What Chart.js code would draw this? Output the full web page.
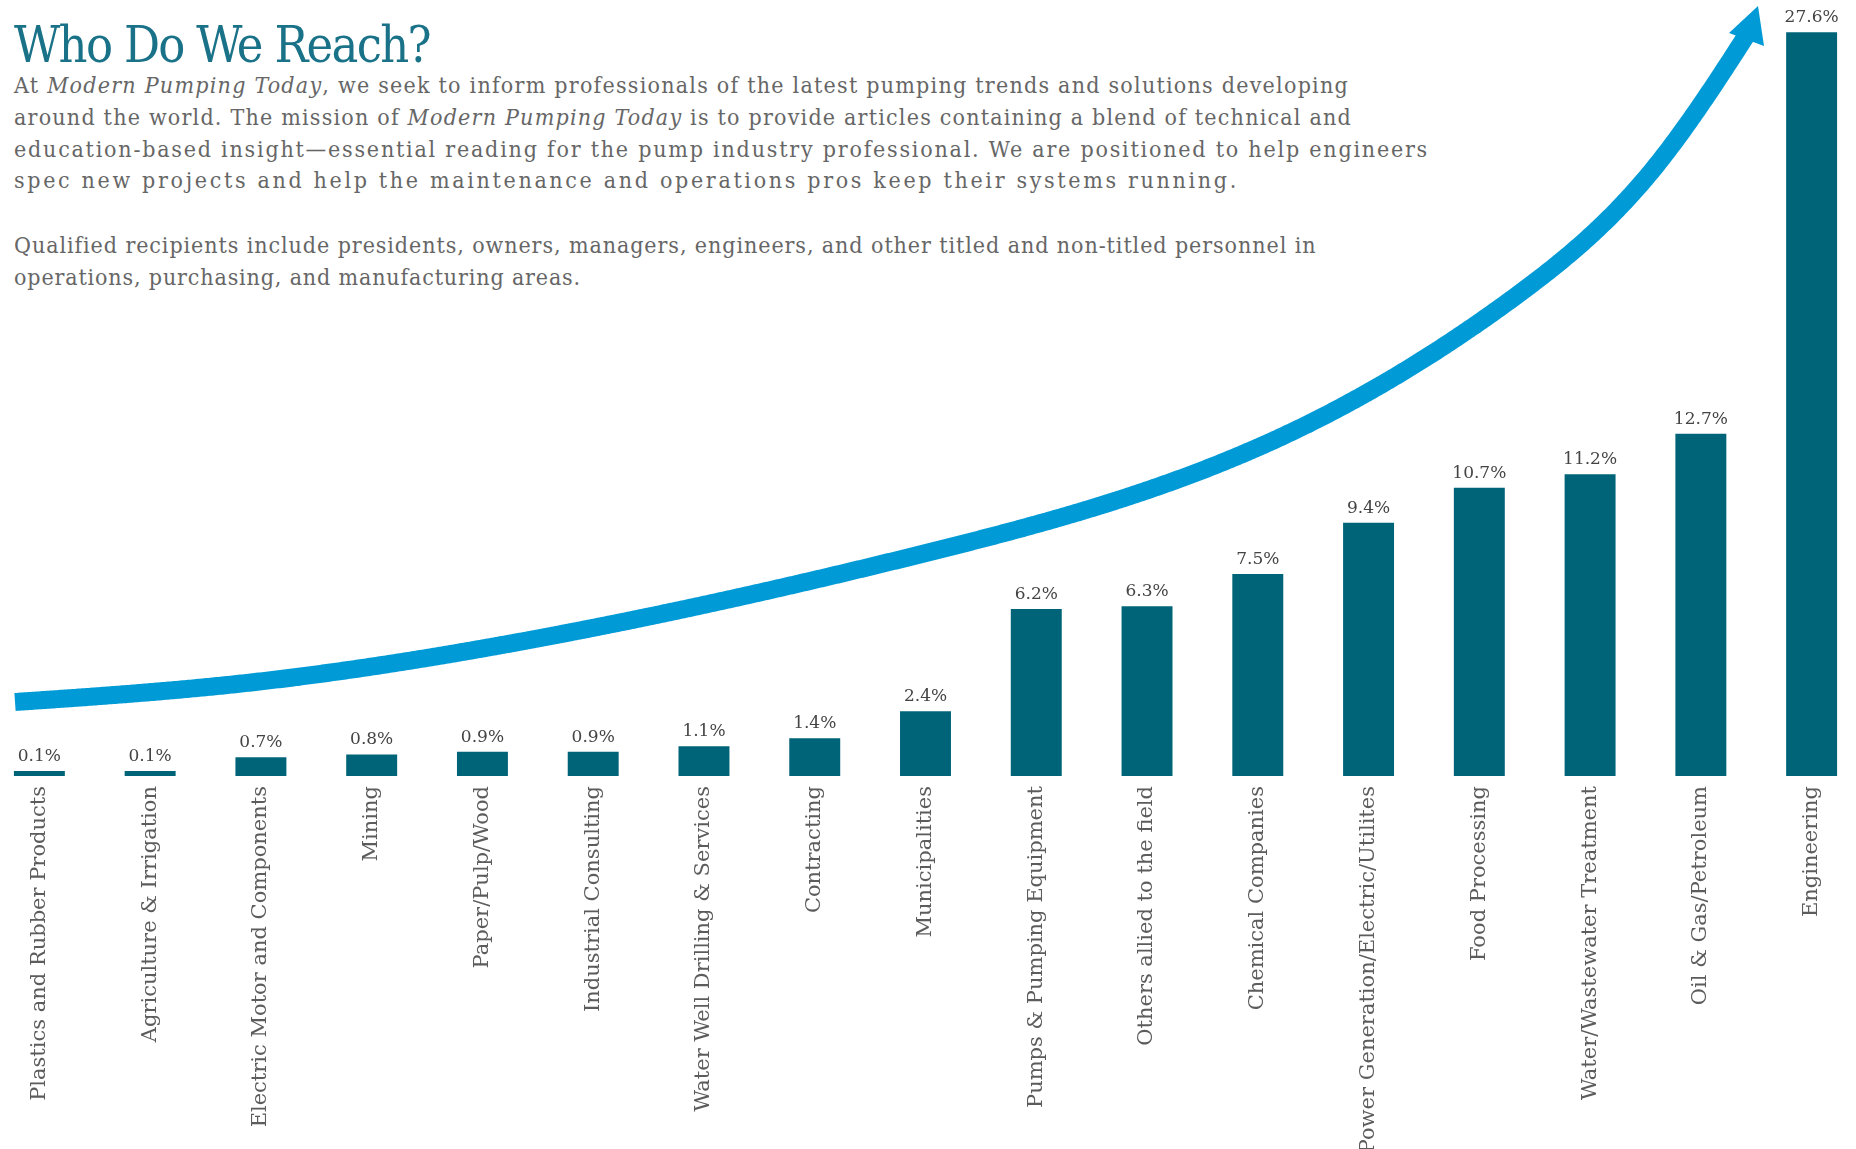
<!DOCTYPE html>
<html>
<head>
<meta charset="utf-8">
<script src="https://cdn.jsdelivr.net/npm/chart.js@4"></script>
<style>
  html, body { margin: 0; padding: 0; background: #fff; width: 1856px; height: 1149px; overflow: hidden; }
  .txt { position: absolute; left: 14px; white-space: nowrap; font-family: "DejaVu Serif Condensed", "DejaVu Serif", serif; font-stretch: condensed; }
  #title { top: 20px; font-size: 50px; line-height: 50px; color: #1a7288; }
  .ln { font-size: 23px; line-height: 32px; height: 32px; color: #666666; }
  #wrap { position: absolute; left: -16px; top: 0; width: 1883px; height: 1149px; }
  #arrow { position: absolute; left: 0; top: 0; pointer-events: none; }
</style>
</head>
<body>

<div id="title" class="txt fit" data-w="416">Who Do We Reach?</div>
<div class="txt ln fit" style="top:69px"  data-w="1335">At <i>Modern Pumping Today</i>, we seek to inform professionals of the latest pumping trends and solutions developing</div>
<div class="txt ln fit" style="top:101px" data-w="1338">around the world. The mission of <i>Modern Pumping Today</i> is to provide articles containing a blend of technical and</div>
<div class="txt ln fit" style="top:133px" data-w="1415">education-based insight—essential reading for the pump industry professional. We are positioned to help engineers</div>
<div class="txt ln fit" style="top:164px" data-w="1225">spec new projects and help the maintenance and operations pros keep their systems running.</div>
<div class="txt ln fit" style="top:229px" data-w="1302">Qualified recipients include presidents, owners, managers, engineers, and other titled and non-titled personnel in</div>
<div class="txt ln fit" style="top:261px" data-w="567">operations, purchasing, and manufacturing areas.</div>

<div id="wrap"><canvas id="barChart"></canvas></div>

<svg id="arrow" width="1856" height="1149">
  <path id="arrowShaft" fill="none" stroke="#009bd6" stroke-width="18" stroke-linecap="butt" stroke-linejoin="round"></path>
  <polygon points="1758,6 1729,33 1764,46" fill="#009bd6"></polygon>
</svg>

<script>
// ── data ──
const CATEGORIES = [
  'Plastics and Rubber Products',
  'Agriculture & Irrigation',
  'Electric Motor and Components',
  'Mining',
  'Paper/Pulp/Wood',
  'Industrial Consulting',
  'Water Well Drilling & Services',
  'Contracting',
  'Municipalities',
  'Pumps & Pumping Equipment',
  'Others allied to the field',
  'Chemical Companies',
  'Power Generation/Electric/Utilites',
  'Food Processing',
  'Water/Wastewater Treatment',
  'Oil & Gas/Petroleum',
  'Engineering',
];
const SHARES = [0.1, 0.1, 0.7, 0.8, 0.9, 0.9, 1.1, 1.4, 2.4, 6.2, 6.3, 7.5, 9.4, 10.7, 11.2, 12.7, 27.6];
const Y_MIN = 0;
const Y_MAX = 28.8;

const BAR_COLOR   = '#006479';
const LABEL_COLOR = '#5c5c5c';
const VALUE_COLOR = '#444444';

// ── stretch each text line to the width it has in the layout ──
document.querySelectorAll('.fit').forEach(el => {
  el.style.letterSpacing = '0px';
  const natural = el.getBoundingClientRect().width;
  const n = el.textContent.length;
  el.style.letterSpacing = ((+el.dataset.w - natural) / n) + 'px';
});

// ── decorative growth arrow (page pixels, natural cubic spline through a few guide points) ──
(function drawArrow() {
  const xs = [15, 237, 474, 930, 1302, 1520, 1655, 1737, 1746];
  const ys = [702, 684, 650, 552, 427, 293, 167, 50, 36];
  const n = xs.length;
  const h = [], alpha = [0], l = [1], mu = [0], z = [0];
  for (let i = 0; i < n - 1; i++) h.push(xs[i + 1] - xs[i]);
  for (let i = 1; i < n - 1; i++) {
    alpha.push(3 / h[i] * (ys[i + 1] - ys[i]) - 3 / h[i - 1] * (ys[i] - ys[i - 1]));
  }
  for (let i = 1; i < n - 1; i++) {
    l[i] = 2 * (xs[i + 1] - xs[i - 1]) - h[i - 1] * mu[i - 1];
    mu[i] = h[i] / l[i];
    z[i] = (alpha[i] - h[i - 1] * z[i - 1]) / l[i];
  }
  const c = new Array(n).fill(0), b = [], d = [];
  for (let j = n - 2; j >= 0; j--) {
    c[j] = z[j] - mu[j] * c[j + 1];
    b[j] = (ys[j + 1] - ys[j]) / h[j] - h[j] * (c[j + 1] + 2 * c[j]) / 3;
    d[j] = (c[j + 1] - c[j]) / (3 * h[j]);
  }
  const f = x => {
    let j = 0;
    while (j < n - 2 && x > xs[j + 1]) j++;
    const t = x - xs[j];
    return ys[j] + b[j] * t + c[j] * t * t + d[j] * t * t * t;
  };
  let path = `M${xs[0]},${ys[0]}`;
  for (let x = xs[0] + 2; x < xs[n - 1]; x += 2) path += ` L${x},${f(x).toFixed(2)}`;
  path += ` L${xs[n - 1]},${ys[n - 1]}`;
  document.getElementById('arrowShaft').setAttribute('d', path);
})();

// ── value labels above bars ──
const valueLabels = {
  id: 'valueLabels',
  afterDatasetsDraw(chart) {
    const ctx = chart.ctx;
    const meta = chart.getDatasetMeta(0);
    ctx.save();
    ctx.font = '17px "DejaVu Serif", serif';
    ctx.fillStyle = VALUE_COLOR;
    ctx.textAlign = 'center';
    ctx.textBaseline = 'alphabetic';
    meta.data.forEach((bar, i) => {
      ctx.fillText(SHARES[i].toFixed(1) + '%', bar.x, bar.y - 10);
    });
    ctx.restore();
  },
};

new Chart(document.getElementById('barChart'), {
  type: 'bar',
  data: {
    labels: CATEGORIES,
    datasets: [{
      data: SHARES,
      backgroundColor: BAR_COLOR,
      borderWidth: 0,
      barPercentage: 0.46,
      categoryPercentage: 1,
      minBarLength: 5,
    }],
  },
  options: {
    responsive: true,
    maintainAspectRatio: false,
    animation: false,
    layout: { padding: 0 },
    plugins: {
      legend: { display: false },
      tooltip: { enabled: false },
    },
    scales: {
      x: {
        grid: { display: false, drawTicks: false },
        border: { display: false },
        ticks: {
          autoSkip: false,
          minRotation: 90,
          maxRotation: 90,
          padding: 10,
          color: LABEL_COLOR,
          font: { family: '"DejaVu Serif", serif', size: 21 },
        },
        afterFit: scale => { scale.height = 373; },
      },
      y: {
        display: false,
        min: Y_MIN,
        max: Y_MAX,
      },
    },
  },
  plugins: [valueLabels],
});
</script>
</body>
</html>
